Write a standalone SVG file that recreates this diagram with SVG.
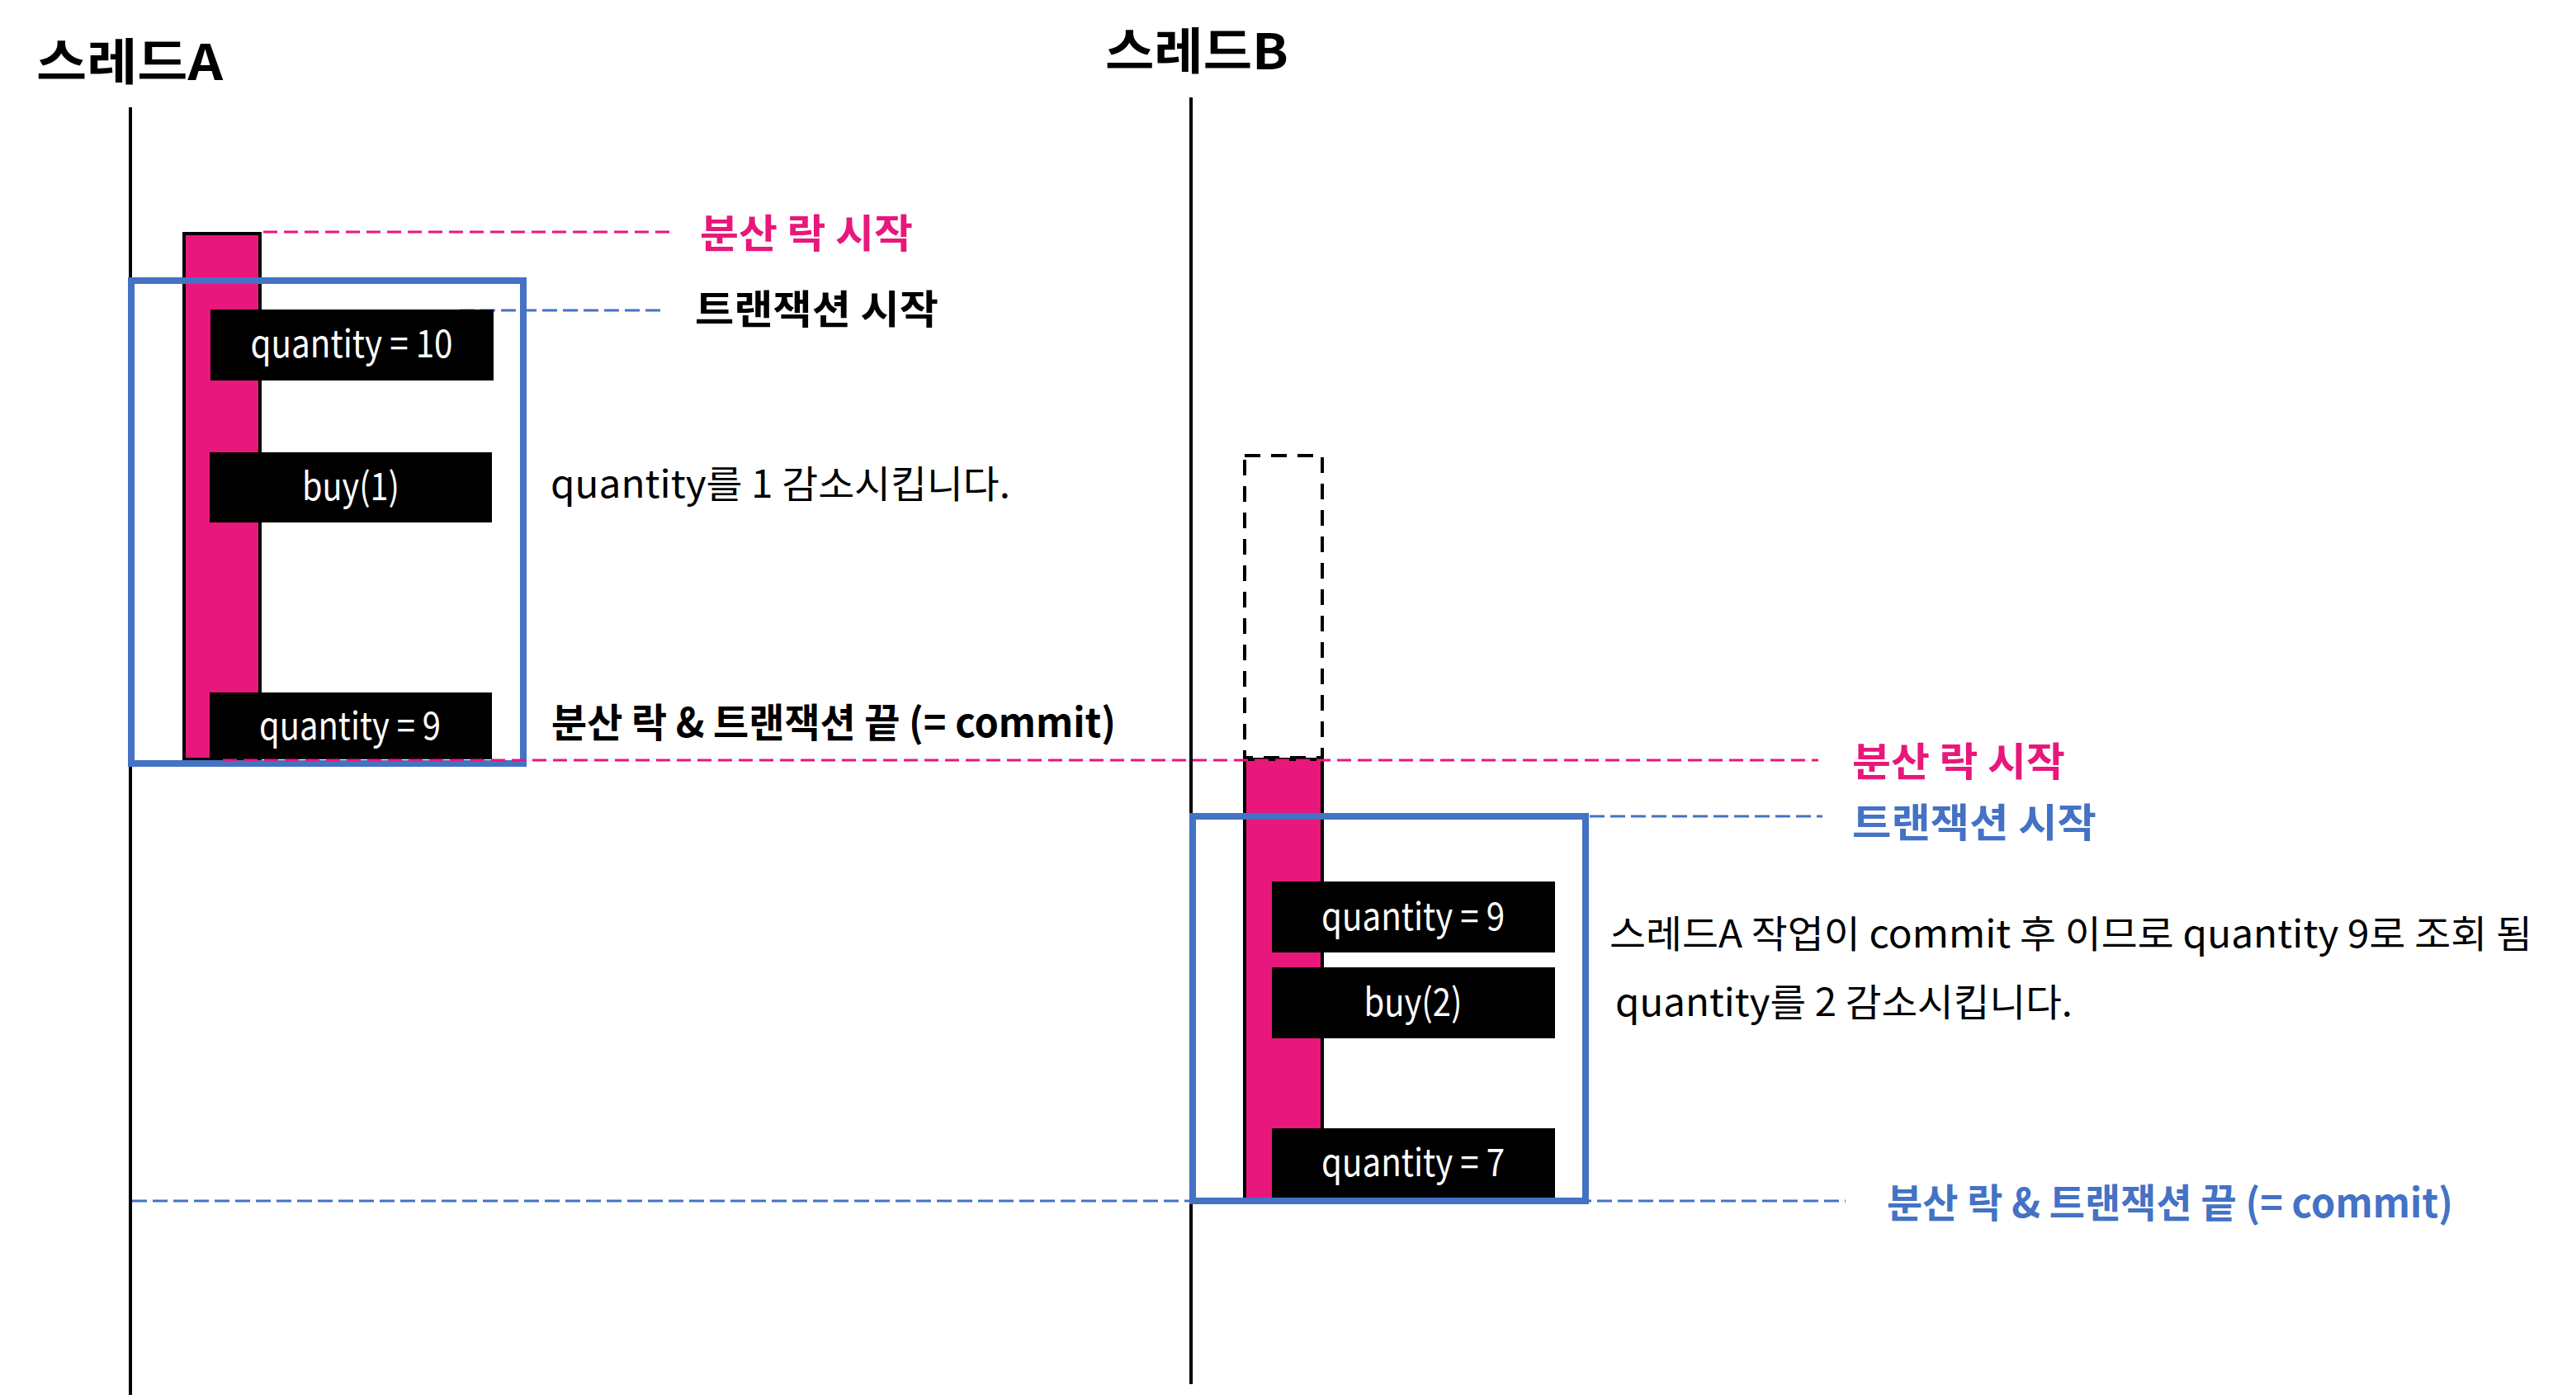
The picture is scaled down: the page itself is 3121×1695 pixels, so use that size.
<svg xmlns="http://www.w3.org/2000/svg" width="3121" height="1695" viewBox="0 0 3121 1695">
<style>
  text { font-family: "Noto Sans CJK KR", "Noto Sans", sans-serif; }
  .title { font-size: 60px; font-weight: 700; fill: #000; }
  .lbl { font-size: 48px; font-weight: 700; }
  .note { font-size: 46px; font-weight: 400; fill: #000; }
  .box-t { font-size: 46px; fill: #fff; text-anchor: middle; }
  .life { stroke: #000; stroke-width: 4; fill: none; }
  .lock { fill: #E8177B; stroke: #000; stroke-width: 4; }
  .wait { fill: none; stroke: #000; stroke-width: 4; stroke-dasharray: 19 13; }
  .tx { fill: none; stroke: #4472C4; stroke-width: 8; }
  .step { fill: #000; }
  .pink-d { stroke: #E8177B; stroke-width: 3; stroke-dasharray: 17 8; fill: none; }
  .blue-d { stroke: #4472C4; stroke-width: 3; stroke-dasharray: 18 7; fill: none; }
  .pink { fill: #E8177B; }
  .blue { fill: #4472C4; }
  .black { fill: #000; }
</style>
<rect width="3121" height="1695" fill="#fff"/>

<g id="thread-a">
  <text class="title" x="44" y="97" textLength="226" lengthAdjust="spacingAndGlyphs">스레드A</text>
  <line class="life" x1="158" y1="130" x2="158" y2="1690"/>
</g>
<g id="thread-b">
  <text class="title" x="1339" y="84" textLength="222" lengthAdjust="spacingAndGlyphs">스레드B</text>
  <line class="life" x1="1443" y1="118" x2="1443" y2="1677"/>
</g>

<g id="lock-a">
  <rect class="lock" x="223" y="283" width="92" height="637"/>
</g>
<g id="wait-b">
  <rect class="wait" x="1508" y="552" width="94" height="366"/>
</g>
<g id="lock-b">
  <rect class="lock" x="1508" y="920" width="94" height="535"/>
</g>

<g id="tx-a">
  <rect class="tx" x="159" y="340" width="475" height="585"/>
</g>
<g id="tx-b">
  <rect class="tx" x="1445" y="989" width="476" height="466"/>
</g>

<g id="connectors">
  <line class="pink-d" x1="319" y1="281" x2="813" y2="281"/>
  <line class="blue-d" x1="557" y1="376" x2="806" y2="376"/>
  <line class="blue-d" x1="1926" y1="989" x2="2208" y2="989"/>
  <line class="blue-d" x1="160" y1="1455" x2="2236" y2="1455"/>
</g>

<g id="step-a1">
  <rect class="step" x="255" y="375" width="343" height="86"/>
  <text class="box-t" x="426" y="433" textLength="245" lengthAdjust="spacingAndGlyphs">quantity = 10</text>
</g>
<g id="step-a2">
  <rect class="step" x="254" y="548" width="342" height="85"/>
  <text class="box-t" x="425" y="606" textLength="118" lengthAdjust="spacingAndGlyphs">buy(1)</text>
</g>
<g id="step-a3">
  <rect class="step" x="254" y="839" width="342" height="81"/>
  <text class="box-t" x="424" y="896" textLength="220" lengthAdjust="spacingAndGlyphs">quantity = 9</text>
</g>
<g id="step-b1">
  <rect class="step" x="1541" y="1068" width="343" height="86"/>
  <text class="box-t" x="1712" y="1127" textLength="222" lengthAdjust="spacingAndGlyphs">quantity = 9</text>
</g>
<g id="step-b2">
  <rect class="step" x="1541" y="1172" width="343" height="86"/>
  <text class="box-t" x="1712" y="1231" textLength="119" lengthAdjust="spacingAndGlyphs">buy(2)</text>
</g>
<g id="step-b3">
  <rect class="step" x="1541" y="1367" width="343" height="84"/>
  <text class="box-t" x="1712" y="1425" textLength="222" lengthAdjust="spacingAndGlyphs">quantity = 7</text>
</g>

<g id="connector-lock-b">
  <line class="pink-d" x1="270" y1="921" x2="2203" y2="921"/>
</g>

<g id="labels">
  <text class="lbl pink" x="848" y="300" textLength="258" lengthAdjust="spacingAndGlyphs">분산 락 시작</text>
  <text class="lbl black" x="842" y="392" textLength="295" lengthAdjust="spacingAndGlyphs">트랜잭션 시작</text>
  <text class="note" x="667" y="603" textLength="557" lengthAdjust="spacingAndGlyphs">quantity를 1 감소시킵니다.</text>
  <text class="lbl black" x="668" y="893" textLength="684" lengthAdjust="spacingAndGlyphs">분산 락 &amp; 트랜잭션 끝 (= commit)</text>
  <text class="lbl pink" x="2244" y="940" textLength="258" lengthAdjust="spacingAndGlyphs">분산 락 시작</text>
  <text class="lbl blue" x="2244" y="1014" textLength="296" lengthAdjust="spacingAndGlyphs">트랜잭션 시작</text>
  <text class="note" x="1950" y="1148" textLength="1118" lengthAdjust="spacingAndGlyphs">스레드A 작업이 commit 후 이므로 quantity 9로 조회 됨</text>
  <text class="note" x="1957" y="1231" textLength="554" lengthAdjust="spacingAndGlyphs">quantity를 2 감소시킵니다.</text>
  <text class="lbl blue" x="2286" y="1475" textLength="686" lengthAdjust="spacingAndGlyphs">분산 락 &amp; 트랜잭션 끝 (= commit)</text>
</g>
</svg>
